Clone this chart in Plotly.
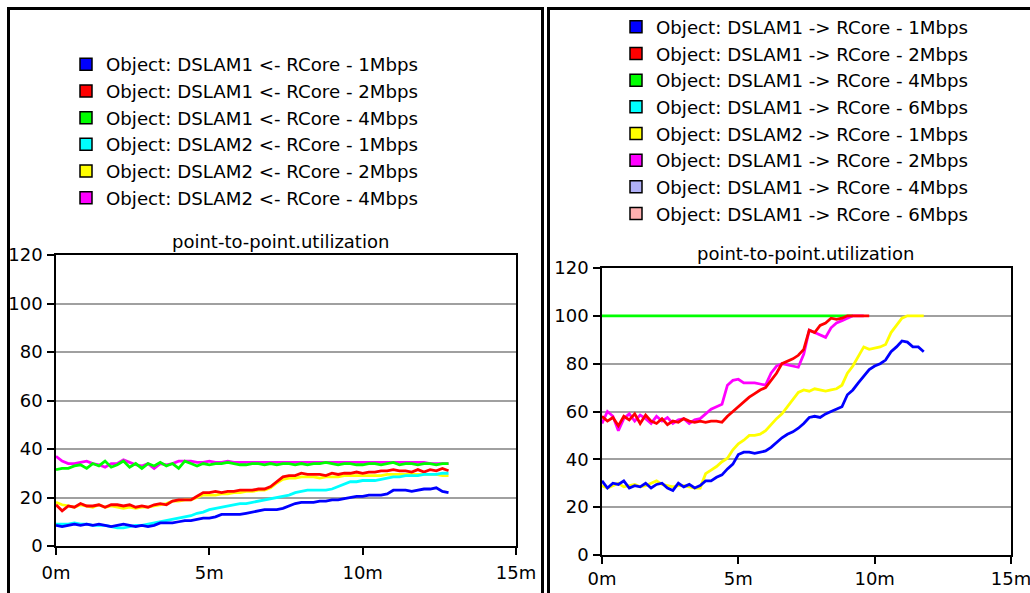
import plotly.graph_objects as go

W, H = 1030, 593


def fx(p):
    return p / W


def fy(p):
    return 1 - p / H


FONT = "DejaVu Sans"

# ---------------- data: left panel (DSLAMx <- RCore) ----------------
time_left = [round(0.2 * i, 1) for i in range(65)]  # minutes

l_dslam1_1m = [8.5, 8, 8.5, 9, 8.5,
               9, 8.5, 9, 8.5, 8,
               8.5, 9, 8.5, 8, 8.5,
               8, 8.5, 9.5, 9.5, 9.5,
               10, 10.5, 10.5, 11, 11.5,
               11.5, 12, 13, 13, 13,
               13, 13.5, 14, 14.5, 15,
               15, 15, 15.5, 16.5, 17.5,
               18, 18, 18, 18.5, 18.5,
               19, 19, 19.5, 20, 20.5,
               20.5, 21, 21, 21, 21.5,
               23, 23, 23, 22.5, 23,
               23.5, 23.5, 24, 22.5, 22]

l_dslam2_1m = [9, 9, 9, 9.5, 9,
               9, 8.5, 8.5, 8.5, 8,
               7.5, 7.5, 8, 8.5, 8.5,
               9, 9.5, 10, 10.5, 11,
               11.5, 12, 12.5, 13.5, 14,
               15, 15.5, 16, 16.5, 17,
               17.5, 17.5, 18, 18.5, 19,
               19.5, 20, 20.5, 21, 22,
               22.5, 23, 23, 23, 23,
               23.5, 24.5, 25.5, 26.5, 26.5,
               27, 27, 27, 27.5, 28,
               28.5, 28.5, 29, 29, 29,
               29.5, 29.5, 29.5, 30, 30]

l_dslam2_2m = [18, 17, 16.5, 16, 17,
               16.5, 16, 17, 16, 16.5,
               16, 15.5, 16, 15.5, 16,
               16, 16.5, 17, 17.5, 18.5,
               18.5, 19, 19, 20, 21,
               21, 21, 21.5, 21.5, 22,
               22, 22.5, 22.5, 23, 23,
               24, 26, 27.5, 28, 28,
               28.5, 28.5, 28.5, 28, 28.5,
               28.5, 28.5, 29, 29, 29,
               29, 29, 29, 29, 29.5,
               29.5, 29.5, 29.5, 29.5, 29.5,
               29.5, 29.5, 29.5, 29, 29]

l_dslam1_2m = [17, 14.5, 16.5, 16, 17.5,
               16.5, 16.5, 17, 16, 17,
               17, 16.5, 17, 16, 16.5,
               16, 17, 17.5, 17, 18.5,
               19, 19, 19, 20.5, 22,
               22, 22.5, 22, 22.5, 22.5,
               23, 23, 23, 23.5, 23.5,
               24.5, 26.5, 28.5, 29, 29,
               30, 29.5, 29.5, 29.5, 29,
               30, 29.5, 30, 30, 30.5,
               30, 30.5, 30.5, 31, 31,
               31.5, 31, 31, 30.5, 31.5,
               30.5, 31.5, 31, 32, 31]

l_dslam1_4m = [31.5, 32, 32, 33, 33.5,
               32, 34, 33, 35, 32.5,
               33.5, 35, 32.5, 34, 32,
               34, 33, 34.5, 33, 34,
               32, 35, 34, 33, 34,
               33.5, 34, 34, 34.5, 34,
               33.5, 33.5, 34, 34, 33.5,
               34, 33.5, 34, 34, 33.5,
               34, 33.5, 34, 34, 34.5,
               34, 33.5, 34, 34, 33.5,
               33.5, 34, 34, 33.5, 34,
               34.5, 33.5, 34, 34, 33.5,
               34, 34, 33.5, 34, 34]

l_dslam2_4m = [37, 35, 34, 34, 34.5,
               35, 34, 33.5, 32.5, 34,
               34, 35.5, 34.5, 33.5, 33,
               34, 32, 34, 33.5, 34,
               35, 35, 35, 34.5, 34.5,
               35, 34.5, 34.5, 35, 34.5,
               34.5, 34.5, 34.5, 34.5, 34.5,
               34.5, 34.5, 34.5, 34.5, 34.5,
               34.5, 34.5, 34.5, 34.5, 34.5,
               34.5, 34.5, 34.5, 34.5, 34.5,
               34.5, 34.5, 34.5, 34.5, 34.5,
               34.5, 34.5, 34.5, 34.5, 34.5,
               34.5, 34, 34, 34, 34]

# ---------------- data: right panel (DSLAMx -> RCore) ----------------
time_right = [round(0.2 * i, 1) for i in range(60)]  # minutes

r_dslam1_1m = [31, 28, 30, 29.5, 31,
               28, 29, 28.5, 30, 28,
               29.5, 30, 28, 27, 30,
               28.5, 29.5, 28, 29, 31,
               31, 32.5, 33.5, 36, 38,
               42, 43, 43, 42.5, 43,
               43.5, 45, 47, 49, 50.5,
               51.5, 53, 55, 57.5, 58,
               57.5, 59, 60, 61, 62,
               67, 69, 72, 75, 77.5,
               79, 80, 81.5, 85, 87,
               89.5, 89, 87, 87, 85]

r_dslam2_1m = [29, 28, 29, 30, 28.5,
               29, 29.5, 28.5, 29, 30,
               31, 29.5, 29, 28.5, 29,
               29, 28.5, 28, 28, 34,
               35.5, 37, 39, 40.5, 44,
               46.5, 48, 50, 50, 50.5,
               52, 54.5, 57, 59, 62,
               64.5, 68, 69, 68.5, 69.5,
               69, 68.5, 69, 69.5, 71,
               76, 79, 83, 87, 86,
               86.5, 87, 88, 93, 96,
               99, 100, 100, 100, 100]

r_dslam1_2m = [58, 56, 57.5, 54, 58,
               56.5, 59, 55, 58.5, 56,
               55, 57, 54.5, 56, 55.5,
               57, 56, 55.5, 56, 55.5,
               56, 56, 55.5, 58, 60,
               62, 64, 66, 67.5, 69,
               70, 73, 76, 80, 81,
               82, 83.5, 86, 94, 93,
               96, 97, 99, 98.5, 99,
               100, 100, 100, 100, 100]

r_dslam1_2m_b = [55, 60, 58, 52, 57,
                 59, 56, 58.5, 57, 55,
                 58, 56, 57.5, 55, 56.5,
                 57, 55, 56.5, 57, 59,
                 61, 62, 63, 71, 73,
                 73.5, 72, 72, 72, 71.5,
                 71, 76, 79, 80, 79.5,
                 79, 78.5, 84, 94, 93,
                 92, 91, 95, 97, 98,
                 99, 100, 100, 100]

r_dslam1_4m_time = [0.0, 9.2]
r_dslam1_4m = [100, 100]

left_names = ["Object: DSLAM1 <- RCore - 1Mbps", "Object: DSLAM1 <- RCore - 2Mbps",
              "Object: DSLAM1 <- RCore - 4Mbps", "Object: DSLAM2 <- RCore - 1Mbps",
              "Object: DSLAM2 <- RCore - 2Mbps", "Object: DSLAM2 <- RCore - 4Mbps"]
left_colors = ["#0000ff", "#ff0000", "#00ff00", "#00ffff", "#ffff00", "#ff00ff"]

right_names = ["Object: DSLAM1 -> RCore - 1Mbps", "Object: DSLAM1 -> RCore - 2Mbps",
               "Object: DSLAM1 -> RCore - 4Mbps", "Object: DSLAM1 -> RCore - 6Mbps",
               "Object: DSLAM2 -> RCore - 1Mbps", "Object: DSLAM1 -> RCore - 2Mbps",
               "Object: DSLAM1 -> RCore - 4Mbps", "Object: DSLAM1 -> RCore - 6Mbps"]
right_colors = ["#0000ff", "#ff0000", "#00ff00", "#00ffff",
                "#ffff00", "#ff00ff", "#b0b0f8", "#ffb0b0"]

x_tickvals = [0, 5, 10, 15]
x_ticktext = ["0m", "5m", "10m", "15m"]
y_tickvals = [0, 20, 40, 60, 80, 100, 120]
title_text = "point-to-point.utilization"

fig = go.Figure()
LW = 2.8

# left panel lines (draw order chosen to match overlap)
left_draw = [
    (l_dslam2_4m, left_colors[5]),
    (l_dslam1_4m, left_colors[2]),
    (l_dslam2_2m, left_colors[4]),
    (l_dslam1_2m, left_colors[1]),
    (l_dslam2_1m, left_colors[3]),
    (l_dslam1_1m, left_colors[0]),
]
for ys, col in left_draw:
    fig.add_trace(go.Scatter(x=time_left[:len(ys)], y=ys, mode="lines",
                             line=dict(color=col, width=LW), showlegend=False,
                             xaxis="x", yaxis="y", hoverinfo="skip"))

right_draw = [
    (r_dslam1_4m_time, r_dslam1_4m, right_colors[2]),
    (time_right, r_dslam1_2m_b, right_colors[5]),
    (time_right, r_dslam1_2m, right_colors[1]),
    (time_right, r_dslam2_1m, right_colors[4]),
    (time_right, r_dslam1_1m, right_colors[0]),
]
for xs, ys, col in right_draw:
    fig.add_trace(go.Scatter(x=xs[:len(ys)], y=ys, mode="lines",
                             line=dict(color=col, width=LW), showlegend=False,
                             xaxis="x2", yaxis="y2", hoverinfo="skip"))

# legend entries (square swatches)
for i, (n, c) in enumerate(zip(left_names, left_colors)):
    fig.add_trace(go.Scatter(x=[None], y=[None], mode="markers", name=n,
                             marker=dict(symbol="square", size=12, color=c,
                                         line=dict(color="black", width=1.5)),
                             legend="legend", legendgroup="L%d" % i,
                             xaxis="x", yaxis="y"))
for i, (n, c) in enumerate(zip(right_names, right_colors)):
    fig.add_trace(go.Scatter(x=[None], y=[None], mode="markers", name=n,
                             marker=dict(symbol="square", size=12, color=c,
                                         line=dict(color="black", width=1.5)),
                             legend="legend2", legendgroup="R%d" % i,
                             xaxis="x2", yaxis="y2"))

tickfont = dict(family=FONT, size=18, color="black")


def xaxis(dom, anchor, standoff):
    return dict(domain=dom, anchor=anchor, range=[0, 15], tickvals=x_tickvals,
                ticktext=x_ticktext, showline=True, mirror=True, linecolor="black",
                linewidth=1.5, ticks="outside", ticklen=7, tickcolor="black",
                tickwidth=1.5, showgrid=False, zeroline=False, tickfont=tickfont,
                ticklabelstandoff=standoff, ticklabeloverflow="allow",
                fixedrange=True, automargin=False)


def yaxis(dom, anchor):
    return dict(domain=dom, anchor=anchor, range=[0, 120], tickvals=y_tickvals,
                showline=True, mirror=True, linecolor="black", linewidth=1.5,
                ticks="outside", ticklen=7, tickcolor="black", tickwidth=1.5,
                showgrid=True, gridcolor="#a0a0a0", gridwidth=1.5, zeroline=False,
                tickfont=tickfont, ticklabelstandoff=1, ticklabeloverflow="allow",
                fixedrange=True, automargin=False)


legfont = dict(family=FONT, size=18.2, color="black")

border = dict(color="black", width=3)
shapes = [
    dict(type="line", xref="paper", yref="paper", x0=fx(8.5), x1=fx(8.5), y0=fy(7), y1=fy(600), line=border),
    dict(type="line", xref="paper", yref="paper", x0=fx(7), x1=fx(544), y0=fy(8.5), y1=fy(8.5), line=border),
    dict(type="line", xref="paper", yref="paper", x0=fx(542.5), x1=fx(542.5), y0=fy(7), y1=fy(600), line=border),
    dict(type="line", xref="paper", yref="paper", x0=fx(548.5), x1=fx(548.5), y0=fy(7), y1=fy(600), line=border),
    dict(type="line", xref="paper", yref="paper", x0=fx(547), x1=fx(1040), y0=fy(8.5), y1=fy(8.5), line=border),
]

annotations = [
    dict(text=title_text, xref="paper", yref="paper", x=fx(280), y=fy(241),
         xanchor="center", yanchor="middle", showarrow=False,
         font=dict(family=FONT, size=18, color="black")),
    dict(text=title_text, xref="paper", yref="paper", x=fx(805), y=fy(253),
         xanchor="center", yanchor="middle", showarrow=False,
         font=dict(family=FONT, size=18, color="black")),
]

fig.update_layout(
    width=W, height=H,
    margin=dict(l=0, r=0, t=0, b=0, autoexpand=False),
    paper_bgcolor="white", plot_bgcolor="white",
    xaxis=xaxis([fx(56), fx(516)], "y", 3),
    yaxis=yaxis([fy(546), fy(255)], "x"),
    xaxis2=xaxis([fx(602), fx(1011)], "y2", 0),
    yaxis2=yaxis([fy(555), fy(268)], "x2"),
    legend=dict(x=fx(66), y=fy(46), xanchor="left", yanchor="top", font=legfont,
                bgcolor="rgba(0,0,0,0)", borderwidth=0, tracegroupgap=0),
    legend2=dict(x=fx(616), y=fy(8.5), xanchor="left", yanchor="top", font=legfont,
                 bgcolor="rgba(0,0,0,0)", borderwidth=0, tracegroupgap=0),
    shapes=shapes,
    annotations=annotations,
    hovermode=False,
    showlegend=True,
)

fig.write_html("out.html", config={"displayModeBar": False})
